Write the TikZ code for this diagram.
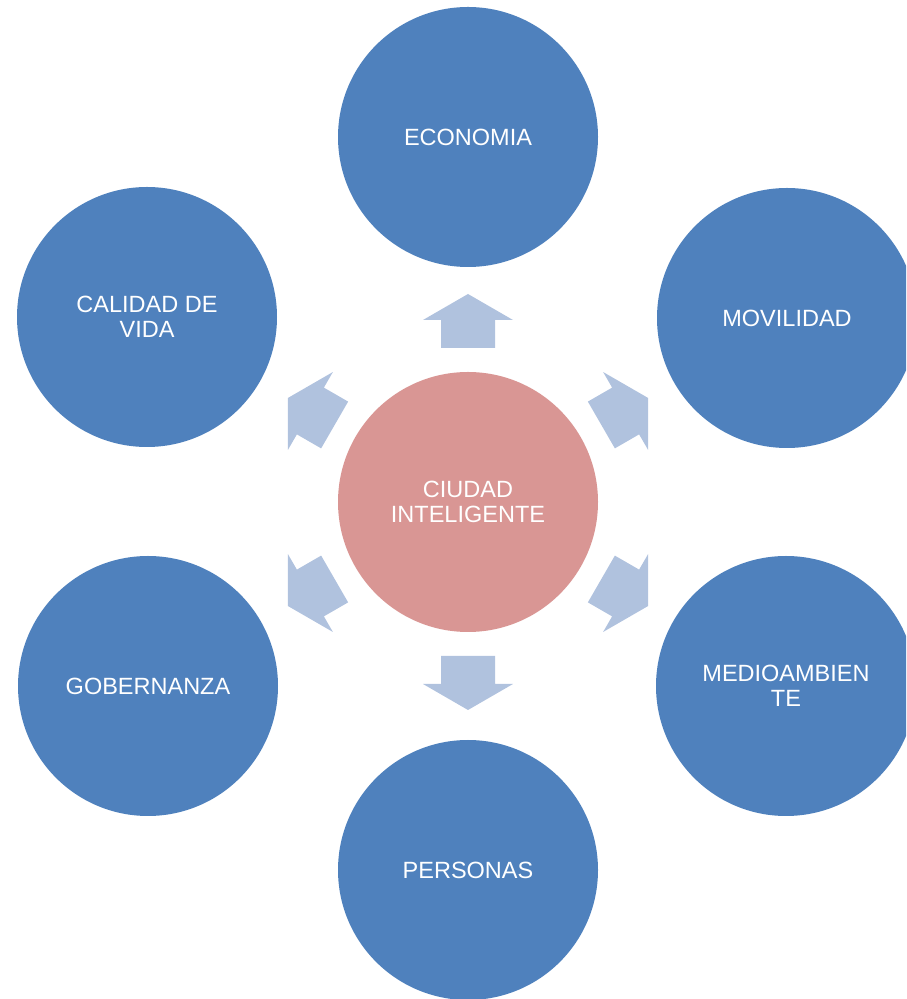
\documentclass[tikz,border=0pt]{standalone}
\usepackage{fontspec}
\setmainfont{Liberation Sans}
\usetikzlibrary{calc}
\definecolor{outerblue}{RGB}{79,129,189}
\definecolor{centerpink}{RGB}{217,150,148}
\definecolor{arrowblue}{RGB}{176,194,222}
\begin{document}
\begin{tikzpicture}[x=1pt,y=1pt,
  bubble/.style={circle,minimum size=260pt,inner sep=0pt,fill=outerblue,text=white,
    align=center,font=\fontsize{23.5}{25}\selectfont},
  hub/.style={bubble,fill=centerpink},
  blockarrow/.style={fill=arrowblue}]
\useasboundingbox (0,0) rectangle (906,999);
\clip (0,0) rectangle (906,999);
\node[hub] (c) at (468,497) {CIUDAD\\INTELIGENTE};
\node[bubble] (eco) at (468,862) {ECONOMIA};
\node[bubble] (mov) at (787,681) {MOVILIDAD};
\node[bubble] (med) at (786,313) {MEDIOAMBIEN\\TE};
\node[bubble] (per) at (468,129) {PERSONAS};
\node[bubble] (gob) at (148,313) {GOBERNANZA};
\node[bubble] (cal) at (147,682) {CALIDAD DE\\VIDA};
\foreach \a in {90,30,-30,-90,210,150}{
  \fill[blockarrow,shift={($(c.center)+(\a:182)$)},rotate=\a]
    (-28,27) -- (0,27) -- (0,45) -- (26,0) -- (0,-45) -- (0,-27) -- (-28,-27) -- cycle;
}
\end{tikzpicture}
\end{document}
